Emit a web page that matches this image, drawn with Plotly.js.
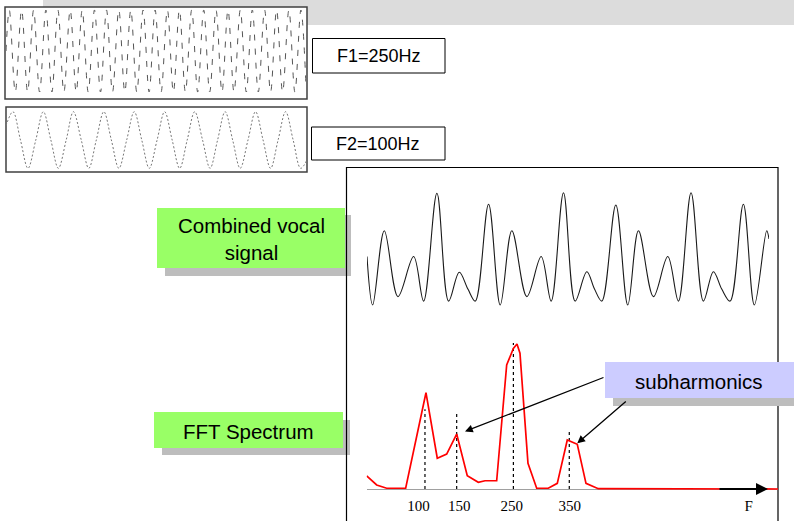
<!DOCTYPE html>
<html>
<head>
<meta charset="utf-8">
<script src="https://cdn.plot.ly/plotly-3.0.1.min.js"></script>
<style>html,body{margin:0;padding:0;background:#fff;}#chart{width:794px;height:521px;}</style>
</head>
<body>
<div id="chart"></div>
<script>
// ---------------- DATA ----------------
// F1 = 250 Hz tone, extremes (time in ms, amplitude)
const f1Time = [0, 1.1, 3.1, 5.2, 7.2, 9.2, 11.2, 13.3, 15.3, 17.3, 19.3, 21.4, 23.4, 25.4, 27.4, 29.5, 31.5, 33.5, 35.5, 37.6, 39.6, 41.6, 43.6, 45.7, 47.7, 49.7, 51.7, 53.8, 55.8, 57.8, 59.8, 61.9, 63.9, 65.9, 67.9, 70.0, 72.0, 74.0, 76.0, 78.1, 80.1, 82.1, 84.1, 86.2, 88.2, 90.2, 92.2, 94.3, 96.3, 98.3, 100];
const f1Amp  = [0, 1, -1, 1, -1, 1, -1, 1, -1, 1, -1, 1, -1, 1, -1, 1, -1, 1, -1, 1, -1, 1, -1, 1, -1, 1, -1, 1, -1, 1, -1, 1, -1, 1, -1, 1, -1, 1, -1, 1, -1, 1, -1, 1, -1, 1, -1, 1, -1, 1, -0.85];

// F2 = 100 Hz tone (time in ms, amplitude)
const f2Time = [0, 2.3, 4.8, 7.3, 9.9, 12.4, 14.9, 17.4, 20.0, 22.4, 25.0, 27.5, 30.0, 32.5, 35.0, 37.5, 40.1, 42.6, 45.1, 47.6, 50.2, 52.7, 55.2, 57.7, 60.2, 62.7, 65.3, 67.8, 70.3, 72.8, 75.3, 77.8, 80.4, 82.9, 85.4, 87.9, 90.4, 92.9, 95.4, 97.9, 100];
const f2Amp  = [0.5, 1, 0, -1, 0, 1, 0, -1, 0, 1, 0, -1, 0, 1, 0, -1, 0, 1, 0, -1, 0, 1, 0, -1, 0, 1, 0, -1, 0, 1, 0, -1, 0, 1, 0, -1, 0, 1, 0, -1, -0.7];

// Combined vocal signal (time in ms, amplitude)
const combTime = [0, 0.89, 2.72, 4.87, 7.33, 8.90, 10.99, 12.83, 14.50, 15.86, 17.02, 19.11, 20.94, 22.77, 25.13, 27.38, 28.95, 30.89, 32.72, 34.55, 35.76, 36.91, 39.11, 40.99, 42.67, 45.03, 47.28, 48.95, 50.94, 52.88, 54.45, 55.76, 57.07, 59.16, 60.89, 62.83, 63.19];
const combAmp  = [-0.27, -2.0, 0.65, -1.70, -0.27, -1.86, 1.99, -1.86, -0.83, -1.43, -1.86, 1.60, -2.0, 0.65, -1.70, -0.27, -1.86, 2.01, -1.86, -0.81, -1.43, -1.86, 1.57, -2.0, 0.65, -1.70, -0.27, -1.86, 2.01, -1.86, -0.81, -1.43, -1.86, 1.60, -2.0, 0.65, 0.36];

// FFT spectrum (bin index, relative magnitude)
const specBin = [0, 1, 2, 3.9, 5.93, 7.06, 8.0, 9.0, 10.06, 11.16, 11.83, 13.0, 14.0, 14.67, 15.03, 15.33, 16.13, 17.0, 18.16, 19.06, 20.06, 21.06, 21.93, 23.16, 41.13];
const specMag = [9.0, 2.8, 0.5, 0.5, 66.4, 21.2, 24.1, 37.9, 9.2, 4.6, 5.7, 5.7, 85.5, 97, 100, 93.6, 17.7, 0.5, 0.5, 3.9, 33.8, 30.8, 3.9, 0.2, 0];

// Harmonic marker lines (bin position, top magnitude)
const markerBin = [5.83, 9.0, 14.67, 20.26];
const markerTop = [55, 53.8, 100.7, 41.4];

// Frequency tick labels (bin position, text)
const tickBin  = [5.18, 9.25, 14.5, 20.3, 38.2];
const tickText = ['100', '150', '250', '350', 'F'];

// ---------------- LAYOUT HELPERS ----------------
const W = 794, H = 521;
const px = x => x / W;
const py = y => 1 - y / H;

const markX = [], markY = [];
markerBin.forEach((b, i) => { markX.push(b, b, null); markY.push(0, markerTop[i], null); });

const traces = [
  {x: f1Time, y: f1Amp, xaxis: 'x', yaxis: 'y', mode: 'lines', line: {color: '#555', width: 1, shape: 'spline', dash: '6px,8px'}, hoverinfo: 'skip'},
  {x: f2Time, y: f2Amp, xaxis: 'x2', yaxis: 'y2', mode: 'lines', line: {color: '#777', width: 1, shape: 'spline', dash: '2px,2px'}, hoverinfo: 'skip'},
  {x: combTime, y: combAmp, xaxis: 'x3', yaxis: 'y3', mode: 'lines', line: {color: '#1a1a1a', width: 1.1, shape: 'spline', smoothing: 1}, hoverinfo: 'skip'},
  {x: markX, y: markY, xaxis: 'x4', yaxis: 'y4', mode: 'lines', line: {color: '#000', width: 1.2, dash: '3px,3px'}, hoverinfo: 'skip'},
  {x: specBin, y: specMag, xaxis: 'x4', yaxis: 'y4', mode: 'lines', line: {color: '#FF0000', width: 1.7}, hoverinfo: 'skip'}
];

const hidden = {visible: false, fixedrange: true};

const rect = (x0, y0, x1, y1, fill, line, lw) => ({
  type: 'rect', xref: 'paper', yref: 'paper', layer: 'below',
  x0: px(x0), x1: px(x1), y0: py(y1), y1: py(y0),
  fillcolor: fill, line: {color: line || 'rgba(0,0,0,0)', width: lw || 0}
});

const shapes = [
  rect(43, 0, 794, 25, '#DCDCDC'),
  rect(5, 7, 307, 99, '#FFFFFF', '#404040', 1.5),
  rect(6, 107, 307, 172, '#FFFFFF', '#404040', 1.5),
  rect(312.5, 38.5, 445, 73, '#FFFFFF', '#000000', 1),
  rect(311.5, 127, 445, 160, '#FFFFFF', '#000000', 1),
  rect(165, 215, 351, 276, '#BDBDBD'),
  rect(157, 208, 345, 268, '#99FF66'),
  rect(162, 420, 350, 455, '#BDBDBD'),
  rect(154, 412, 343, 448, '#99FF66'),
  rect(346.5, 167.5, 778, 540, 'rgba(0,0,0,0)', '#000000', 1.2),
  rect(613, 370, 800, 406, '#BDBDBD'),
  rect(605, 362, 800, 398, '#CCCCFF')
];

const sans = 'Liberation Sans, Arial, sans-serif';
const txt = (x, y, text, size) => ({
  xref: 'paper', yref: 'paper', x: px(x), y: py(y), text: text, showarrow: false,
  xanchor: 'center', yanchor: 'middle', font: {family: sans, size: size, color: '#000'}
});
const arrow = (x, y, ax, ay, w) => ({
  xref: 'x4', yref: 'y4', x: x, y: y, ax: ax, ay: ay, text: '', showarrow: true,
  arrowhead: 2, arrowsize: 1.2, arrowwidth: w, arrowcolor: '#000', standoff: 0
});

const annotations = [
  txt(378.5, 56, 'F1=250Hz', 18),
  txt(378, 143.5, 'F2=100Hz', 18),
  txt(251, 239, 'Combined vocal<br>signal', 20.5),
  txt(248.5, 431, 'FFT Spectrum', 20.5),
  txt(699, 381, 'subharmonics', 20.5),
  arrow(9.83, 39.7, 140, -54.5, 1.3),
  arrow(21.06, 31.5, 50, -43, 1.3),
  arrow(40.13, 0, -50, 0, 2)
];

const layout = {
  width: W, height: H, margin: {l: 0, r: 0, t: 0, b: 0},
  paper_bgcolor: '#FFFFFF', plot_bgcolor: 'rgba(0,0,0,0)', showlegend: false,
  xaxis:  Object.assign({domain: [px(6), px(306)], range: [0, 100], anchor: 'y'}, hidden),
  yaxis:  Object.assign({domain: [py(94.05), py(7.95)], range: [-1.05, 1.05], anchor: 'x'}, hidden),
  xaxis2: Object.assign({domain: [px(6), px(307)], range: [0, 100], anchor: 'y2'}, hidden),
  yaxis2: Object.assign({domain: [py(170.6), py(109.4)], range: [-1.08, 1.08], anchor: 'x2'}, hidden),
  xaxis3: Object.assign({domain: [px(367), px(769)], range: [0, 63.19], anchor: 'y3'}, hidden),
  yaxis3: Object.assign({domain: [py(310.6), py(187.4)], range: [-2.2, 2.2], anchor: 'x3'}, hidden),
  xaxis4: {domain: [px(366.67), px(778)], range: [0, 41.13], anchor: 'y4', fixedrange: true,
           showgrid: false, zeroline: false, showline: false, ticks: '', ticklabelstandoff: 3,
           tickmode: 'array', tickvals: tickBin, ticktext: tickText,
           tickfont: {family: 'Liberation Serif, Times New Roman, serif', size: 15, color: '#000'}},
  yaxis4: {domain: [py(491.9), py(341.1)], range: [-2, 102], anchor: 'x4', fixedrange: true,
           showgrid: false, showticklabels: false, ticks: '', showline: false,
           zeroline: true, zerolinecolor: '#A0A0A0', zerolinewidth: 1},
  shapes: shapes,
  annotations: annotations
};

Plotly.newPlot('chart', traces, layout, {staticPlot: true, displayModeBar: false});
</script>
</body>
</html>
